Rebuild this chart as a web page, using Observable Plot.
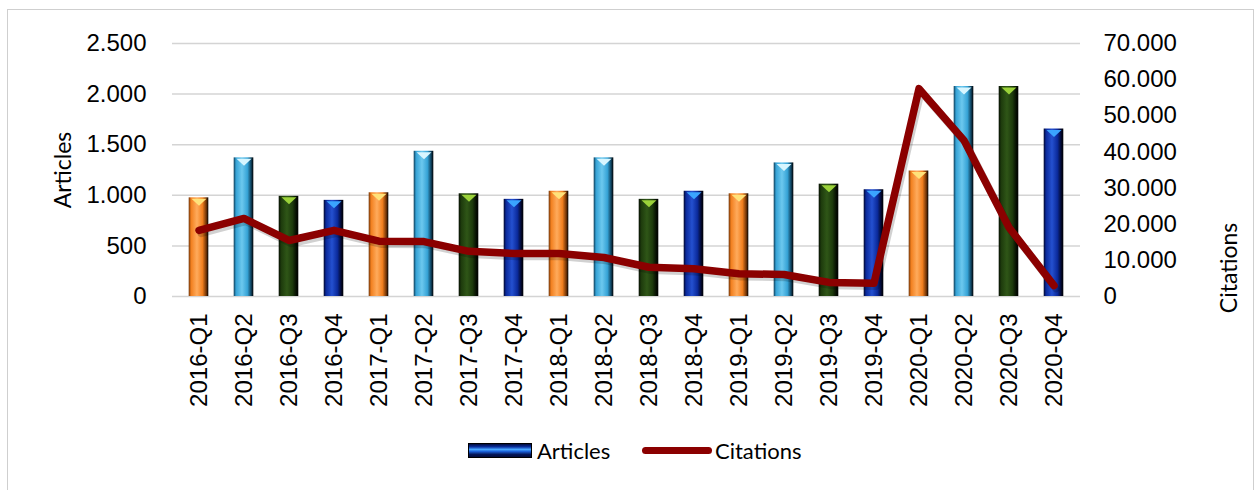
<!DOCTYPE html>
<html>
<head>
<meta charset="utf-8">
<script src="https://cdn.jsdelivr.net/npm/d3@7"></script>
<script src="https://cdn.jsdelivr.net/npm/@observablehq/plot@0.6"></script>
<style>
  html, body { margin: 0; padding: 0; background: #fff; width: 1255px; height: 490px; overflow: hidden; }
  #frame { position: absolute; left: 7px; top: 9px; width: 1247px; height: 520px; border: 1px solid #cfcfcf; box-sizing: border-box; }
  #chart { position: absolute; left: 0; top: 0; }
  #chart svg { background: transparent; }
  #legend { position: absolute; left: 0; top: 430px; width: 1255px; height: 44px; font-family: Lato, "Open Sans", sans-serif; font-size: 22px; color: #000; }
  .sw-bar { position: absolute; left: 468px; top: 13px; width: 64px; height: 15px; box-sizing: border-box; border: 1px solid #000;
            background: linear-gradient(to bottom, #020b3c 0%, #0a2fa0 22%, #49a8ff 42%, #1a5fd8 58%, #04165a 80%, #020b3c 100%); }
  .sw-line { position: absolute; left: 642px; top: 17px; width: 70px; height: 7px; border-radius: 4px; background: #8b0000; }
  .lg-text { position: absolute; top: 6px; line-height: 30px; }
</style>
</head>
<body>
<div id="frame"></div>
<div id="chart"></div>
<div id="legend">
  <div class="sw-bar"></div><div class="lg-text" style="left:537px">Articles</div>
  <div class="sw-line"></div><div class="lg-text" style="left:715px">Citations</div>
</div>
<script>
// Quarterly publication counts and citations, 2016–2020
const quarters = [
  "2016-Q1", "2016-Q2", "2016-Q3", "2016-Q4",
  "2017-Q1", "2017-Q2", "2017-Q3", "2017-Q4",
  "2018-Q1", "2018-Q2", "2018-Q3", "2018-Q4",
  "2019-Q1", "2019-Q2", "2019-Q3", "2019-Q4",
  "2020-Q1", "2020-Q2", "2020-Q3", "2020-Q4"
];
const articles = [
  975, 1370, 990, 950,
  1025, 1435, 1015, 960,
  1040, 1370, 960, 1040,
  1015, 1320, 1110, 1055,
  1240, 2075, 2075, 1655
];
const citations = [
  18300, 21600, 15500, 18300,
  15300, 15200, 12500, 11900,
  11900, 10800, 8100, 7700,
  6300, 6100, 3900, 3700,
  57500, 43200, 19100, 3000
];
const articleTicks = [0, 500, 1000, 1500, 2000, 2500];
const citationTicks = [0, 10000, 20000, 30000, 40000, 50000, 60000, 70000];

// Bar colours per quarter: [dark edge, base, highlight, top facet]
const quarterStyles = {
  Q1: ["#6e3206", "#f27f1e", "#ffab5c", "#ffe27a"],
  Q2: ["#0d3b55", "#36a3d6", "#6cc8ee", "#d8f6ff"],
  Q3: ["#050d02", "#1d3a0c", "#2f5617", "#9bd23a"],
  Q4: ["#010628", "#0b2a9c", "#2450d0", "#3aa4ff"]
};

// Citations share the article y scale; the right axis relabels it
const k = 2500 / 70000;
const fmt = d3.formatLocale({decimal: ",", thousands: ".", grouping: [3], currency: ["", ""]}).format(",");

const rows = quarters.map((q, i) => ({
  q, quarter: q.slice(-2), articles: articles[i], citations: citations[i]
}));

// Horizontal cylinder-like shading for the bars
function gradients() {
  const ns = "http://www.w3.org/2000/svg";
  const defs = document.createElementNS(ns, "defs");
  for (const [q, [dark, base, light]] of Object.entries(quarterStyles)) {
    const g = document.createElementNS(ns, "linearGradient");
    g.setAttribute("id", "bar-" + q);
    g.setAttribute("x1", "0"); g.setAttribute("x2", "1");
    g.setAttribute("y1", "0"); g.setAttribute("y2", "0");
    for (const [o, c] of [[0, dark], [0.12, base], [0.42, light], [0.7, base], [0.9, dark], [1, "#000"]]) {
      const s = document.createElementNS(ns, "stop");
      s.setAttribute("offset", o);
      s.setAttribute("stop-color", c);
      g.appendChild(s);
    }
    defs.appendChild(g);
  }
  return defs;
}

// Flat downward facet drawn on the top of each bar
const facet = {
  draw(ctx) {
    ctx.moveTo(-7.5, 1);
    ctx.lineTo(7.5, 1);
    ctx.lineTo(0, 8);
    ctx.closePath();
  }
};

const barInset = 12.7;
const barMarks = Object.entries(quarterStyles).flatMap(([q, s]) => {
  const sub = rows.filter(d => d.quarter === q);
  return [
    Plot.barY(sub, {x: "q", y: "articles", fill: `url(#bar-${q})`, insetLeft: barInset, insetRight: barInset}),
    Plot.dot(sub, {x: "q", y: "articles", symbol: facet, r: 5, fill: s[3], stroke: "none"})
  ];
});

const titleFont = "Lato, 'Open Sans', sans-serif";

const chart = Plot.plot({
  width: 1255,
  height: 430,
  marginLeft: 172,
  marginRight: 175,
  marginTop: 43,
  marginBottom: 134,
  style: {fontFamily: "'Liberation Sans', Arial, sans-serif", color: "#000", background: "transparent"},
  x: {domain: quarters, padding: 0},
  y: {domain: [0, 2500]},
  marks: [
    gradients,
    Plot.gridY(articleTicks, {stroke: "#d4d4d4", strokeOpacity: 1, strokeWidth: 1.5}),
    ...barMarks,
    Plot.line(rows, {x: "q", y: d => d.citations * k, stroke: "#000", strokeOpacity: 0.18, strokeWidth: 7.5,
      strokeLinejoin: "round", strokeLinecap: "round", dx: 2, dy: 3}),
    Plot.line(rows, {x: "q", y: d => d.citations * k, stroke: "#8b0000", strokeWidth: 7.5,
      strokeLinejoin: "round", strokeLinecap: "round"}),
    Plot.axisY(articleTicks, {anchor: "left", tickSize: 0, tickPadding: 26, tickFormat: fmt, fontSize: 24, label: null}),
    Plot.axisY(citationTicks.map(v => v * k), {anchor: "right", tickSize: 0, tickPadding: 23,
      tickFormat: d => fmt(Math.round(d / k)), fontSize: 24, label: null}),
    Plot.axisX({anchor: "bottom", tickRotate: -90, tickSize: 0, tickPadding: 17, fontSize: 24, label: null}),
    Plot.text(["Articles"], {frameAnchor: "left", textAnchor: "middle", dx: -109, rotate: -90, fontSize: 23,
      fontFamily: titleFont, fill: "#000"}),
    Plot.text(["Citations"], {frameAnchor: "right", textAnchor: "middle", dx: 149, dy: 98, rotate: -90, fontSize: 23,
      fontFamily: titleFont, fill: "#000"})
  ]
});

document.getElementById("chart").appendChild(chart);
</script>
</body>
</html>
